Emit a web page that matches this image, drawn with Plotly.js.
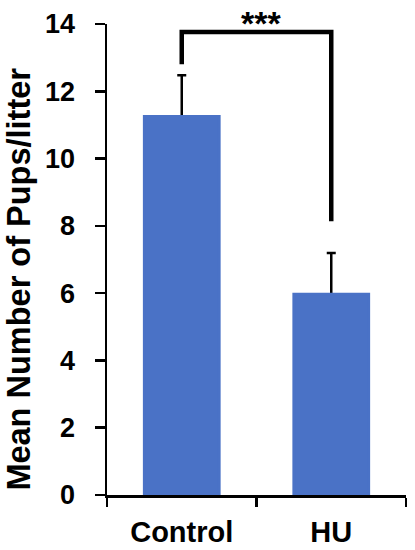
<!DOCTYPE html>
<html>
<head>
<meta charset="utf-8">
<script src="https://cdn.plot.ly/plotly-3.0.1.min.js"></script>
<style>html,body{margin:0;padding:0;background:#fff;}#chart{width:415px;height:550px;}</style>
</head>
<body>
<div id="chart"></div>
<script>
var categories = ["Control", "HU"];
var meanPups = [11.25, 5.97];
var errorUp = [1.23, 1.22];
var yTicks = [0, 2, 4, 6, 8, 10, 12, 14];
var yTitle = "Mean Number of Pups/litter";
var sigLabel = "***";
var bracketTop = 13.76;
var bracketLeftEnd = 12.8;
var bracketRightEnd = 8.14;

var barColor = "#4a72c6";
var errTrace = {
  type: "bar",
  x: categories,
  y: meanPups,
  width: 0.5,
  marker: {color: barColor},
  error_y: {type: "data", symmetric: false, array: errorUp, arrayminus: [0, 0],
            color: "#000", thickness: 2.5, width: 4.5},
  hoverinfo: "none"
};
var barTrace = {
  type: "bar",
  x: categories,
  y: meanPups,
  width: 0.5,
  marker: {color: barColor, line: {color: barColor, width: 3}},
  hoverinfo: "none"
};

var font = "Liberation Sans, Arial, sans-serif";
var layout = {
  width: 415, height: 550,
  margin: {l: 107, r: 9, t: 24, b: 55},
  paper_bgcolor: "#fff", plot_bgcolor: "#fff",
  showlegend: false,
  barmode: "overlay",
  xaxis: {
    type: "category",
    range: [-0.5, 1.5],
    showline: true, linecolor: "#000", linewidth: 2.5,
    ticks: "outside", tickson: "boundaries", ticklen: 9, tickwidth: 2.5, tickcolor: "#000",
    ticklabelstandoff: 10,
    tickfont: {family: font, size: 29, color: "#000", weight: "bold"},
    showgrid: false, zeroline: false, fixedrange: true
  },
  yaxis: {
    range: [0, 14],
    tickvals: yTicks,
    ticktext: yTicks.map(String),
    showline: true, linecolor: "#000", linewidth: 2.5,
    ticks: "outside", ticklen: 10, tickwidth: 2.5, tickcolor: "#000",
    ticklabelstandoff: 14,
    tickfont: {family: font, size: 27, color: "#000", weight: "bold"},
    showgrid: false, zeroline: false, fixedrange: true
  },
  shapes: [{
    type: "path", xref: "x", yref: "y",
    path: "M 0," + bracketLeftEnd + " L 0," + bracketTop + " L 1," + bracketTop + " L 1," + bracketRightEnd,
    line: {color: "#000", width: 4.5}
  }],
  annotations: [
    {xref: "x", yref: "paper", x: 0.53, y: 1.047, yanchor: "top", showarrow: false,
     text: sigLabel, font: {family: font, size: 34, color: "#000", weight: "bold"}},
    {xref: "paper", yref: "paper", x: -0.295, y: 0.459, xanchor: "center", yanchor: "middle",
     textangle: -90, showarrow: false, text: yTitle,
     font: {family: font, size: 32.5, color: "#000", weight: "bold"}}
  ]
};

Plotly.newPlot("chart", [errTrace, barTrace], layout, {staticPlot: true, displayModeBar: false});
</script>
</body>
</html>
